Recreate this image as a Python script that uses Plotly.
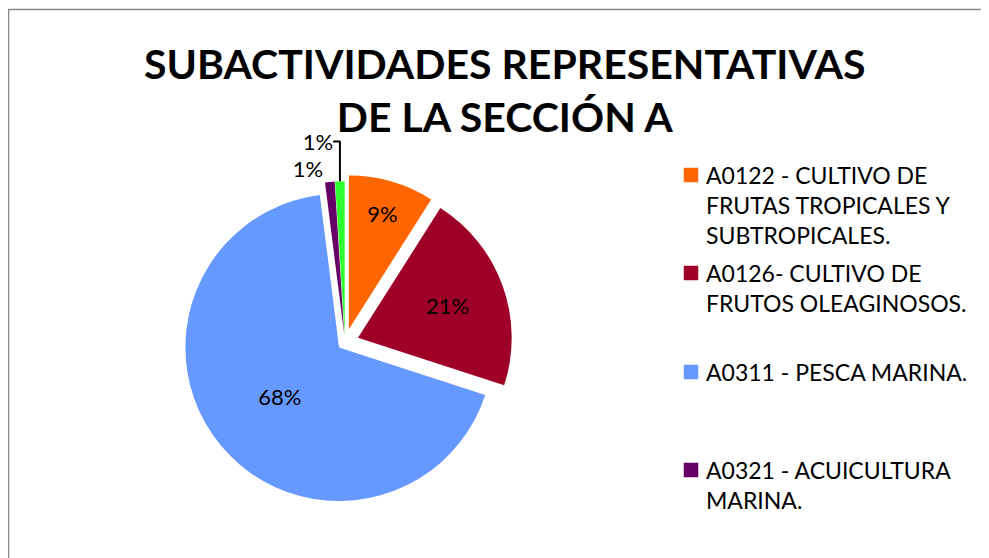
import plotly.graph_objects as go

# ---- data ----
labels = [
    "A0122 - CULTIVO DE FRUTAS TROPICALES Y SUBTROPICALES.",
    "A0126- CULTIVO DE FRUTOS OLEAGINOSOS.",
    "A0311 - PESCA MARINA.",
    "A0321 - ACUICULTURA MARINA.",
    "OTRAS",
]
values = [9, 21, 68, 1, 1]
colors = ["#FF6600", "#9E0027", "#6699FF", "#660066", "#2EFF2E"]
legend_lines = [
    ["A0122 - CULTIVO DE", "FRUTAS TROPICALES Y", "SUBTROPICALES."],
    ["A0126- CULTIVO DE", "FRUTOS OLEAGINOSOS."],
    ["A0311 - PESCA MARINA."],
    ["A0321 - ACUICULTURA", "MARINA."],
]
title_lines = ["SUBACTIVIDADES REPRESENTATIVAS", "DE LA SECCIÓN A"]

W, H = 989, 558
FONT = "Lato"
OFF = 8  # page offset of the figure


def px(x):
    return (x - OFF) / W


def py(y):
    return 1 - (y - OFF) / H


fig = go.Figure()
fig.add_trace(go.Pie(
    labels=labels,
    values=values,
    sort=False,
    direction="clockwise",
    rotation=0,
    marker=dict(colors=colors, line=dict(color="white", width=0)),
    pull=[0.09, 0.09, 0.05, 0.05, 0.05],
    texttemplate="%{percent:.0%}",
    textposition=["inside", "inside", "inside", "outside", "outside"],
    insidetextorientation="horizontal",
    textfont=dict(family=FONT, size=22, color="black"),
    insidetextfont=dict(family=FONT, size=22, color="black"),
    outsidetextfont=dict(family=FONT, size=22, color="black"),
    domain=dict(x=[px(170), px(520)], y=[py(510), py(175)]),
    showlegend=False,
    hoverinfo="label+percent",
))

annotations = []
shapes = []
# title
annotations.append(dict(
    x=px(505), y=py(90), xref="paper", yref="paper",
    text="<br>".join(title_lines), showarrow=False,
    font=dict(family=FONT, size=41, color="black", weight="bold"),
    align="center", xanchor="center", yanchor="middle",
))

# manual legend (only the four visible entries)
item_tops = [175, 273, 372, 470]
sq = 14
for i, (lines, ytop) in enumerate(zip(legend_lines, item_tops)):
    annotations.append(dict(
        x=px(704), y=py(ytop - 16), xref="paper", yref="paper",
        text="<br>".join(lines), showarrow=False,
        font=dict(family=FONT, size=23, color="black"),
        align="left", xanchor="left", yanchor="top",
    ))
    shapes.append(dict(
        type="rect", xref="paper", yref="paper",
        x0=px(684), x1=px(684 + sq),
        y0=py(ytop + sq / 2), y1=py(ytop - sq / 2),
        fillcolor=colors[i], line=dict(color=colors[i], width=0.5),
    ))

# chart frame (extends beyond right/bottom edges)
shapes.append(dict(
    type="rect", xref="paper", yref="paper",
    x0=0.5 / W, x1=1.05, y0=-0.05, y1=py(9.5),
    line=dict(color="#888888", width=1.5), fillcolor="rgba(0,0,0,0)",
    layer="below",
))

fig.update_layout(
    width=W, height=H,
    margin=dict(l=0, r=0, t=0, b=0),
    paper_bgcolor="white",
    plot_bgcolor="white",
    annotations=annotations,
    shapes=shapes,
    showlegend=False,
)

fig.write_html("out.html")
